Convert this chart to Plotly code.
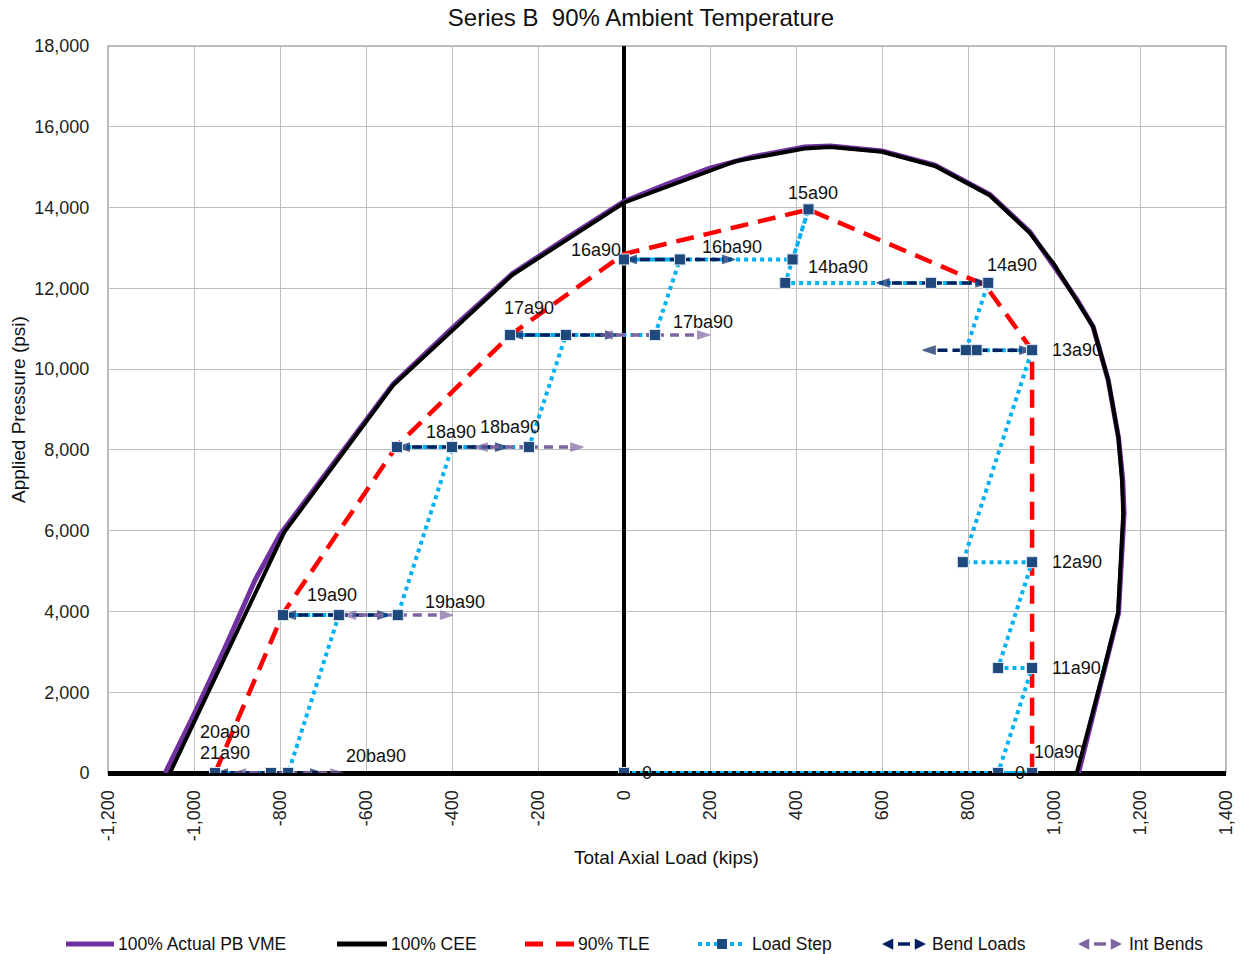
import plotly.graph_objects as go

# ---------------- data ----------------
# 100% Actual PB VME envelope
vme_x = [-1067, -1000, -930, -858, -800, -700, -600, -537, -400, -260, -130, 0, 100, 200, 300,
         420, 480, 600, 723, 851, 944, 1053, 1091, 1126, 1150, 1160, 1163, 1157, 1150, 1115, 1057]
vme_p = [0, 1450, 3050, 4777, 5900, 7330, 8740, 9630, 11010, 12360, 13270, 14150, 14580, 14975, 15260,
         15500, 15525, 15400, 15050, 14320, 13400, 11730, 11050, 9730, 8300, 7250, 6430, 5200, 3960, 2475, 0]

# 100% CEE envelope
cee_x = [-1056, -790, -537, -260, 0, 200, 260, 420, 480, 600, 723, 851, 944, 1000, 1053, 1091,
         1126, 1150, 1158, 1161, 1155, 1149, 1114, 1053]
cee_p = [0, 5965, 9600, 12330, 14120, 14925, 15150, 15460, 15500, 15380, 15030, 14300, 13370, 12600,
         11710, 11050, 9730, 8300, 7250, 6430, 5200, 3960, 2475, 0]

# 90% TLE
tle_x = [-951, -793, -528, -265, 0, 429, 840, 949, 949]
tle_p = [0, 3950, 8100, 10840, 12850, 13950, 12080, 10470, 0]

# Load step path
step_x = [0, 870, 949, 870, 949, 870, 949, 788, 949, 820, 795, 847, 714, 375, 429, 392, 0, 130,
          72, -265, -135, -221, -528, -400, -526, -793, -663, -781, -821, -951]
step_p = [0, 0, 0, 0, 2600, 2600, 5220, 5220, 10470, 10470, 10470, 12135, 12135, 12135, 13955,
          12715, 12715, 12715, 10845, 10845, 10845, 8070, 8070, 8070, 3910, 3910, 3910, 0, 0, 0]

# Bend loads (centre, left tip, right tip, pressure)
bend_c = [822, 716, 130, -137, -400, -665, -823]
bend_l = [695, 588, 0, -265, -528, -793, -951]
bend_r = [949, 847, 258, -14, -270, -544, -700]
bend_p = [10470, 12135, 12715, 10845, 8070, 3910, 0]

# Int bends (centre, left tip, right tip, pressure)
int_c = [72, -221, -526, -781]
int_l = [-56, -347, -653, -909]
int_r = [200, -95, -398, -653]
int_p = [10845, 8070, 3910, 0]

# Point labels
lab_text = ["15a90", "16a90", "16ba90", "14ba90", "14a90", "13a90", "17a90", "17ba90", "18a90",
            "18ba90", "12a90", "11a90", "19a90", "19ba90", "20a90", "21a90", "20ba90", "10a90", "0", "0"]
lab_x = [440, -66, 252, 497, 902, 1053, -220, 183, -403, -265, 1053, 1053, -678, -394, -928, -928,
         -577, 1012, 53, 921]
lab_p = [14352, 12949, 13015, 12535, 12577, 10473, 11505, 11174, 8451, 8575, 5232, 2608, 4407, 4241,
         1023, 487, 421, 528, 0, 0]

x_ticks = [-1200, -1000, -800, -600, -400, -200, 0, 200, 400, 600, 800, 1000, 1200, 1400]
x_ticktext = ["-1,200", "-1,000", "-800", "-600", "-400", "-200", "0", "200", "400", "600", "800",
              "1,000", "1,200", "1,400"]
y_ticks = [0, 2000, 4000, 6000, 8000, 10000, 12000, 14000, 16000, 18000]
y_ticktext = ["0", "2,000", "4,000", "6,000", "8,000", "10,000", "12,000", "14,000", "16,000", "18,000"]

legend_names = ["100% Actual PB VME", "100% CEE", "90% TLE", "Load Step", "Bend Loads", "Int Bends"]

# ---------------- styling ----------------
FONT = "Liberation Sans, Arial, sans-serif"
W, H = 1246, 954
ML, MR, MT, MB = 108, 20, 46, 181
PW, PH = W - ML - MR, H - MT - MB
C_VME = "#7030A0"
C_CEE = "#000000"
C_TLE = "#FF0000"
C_STEP = "#00B0F0"
C_MARK = "#1F497D"
C_BEND = "#002060"
C_INT = "#8064A2"


def px(x):
    return (x - ML) / PW


def py(y):
    return (H - MB - y) / PH


def arrow_segments(c, l, r, p):
    xs, ys, sym, sz, lw = [], [], [], [], []
    for ci, li, ri, pi in zip(c, l, r, p):
        xs += [ci, li, None, ci, ri, None]
        ys += [pi, pi, None, pi, pi, None]
        sym += ["circle", "arrow", "circle", "circle", "arrow", "circle"]
        sz += [0, 13, 0, 0, 13, 0]
        lw += [0, 1.2, 0, 0, 1.2, 0]
    return xs, ys, sym, sz, lw


fig = go.Figure()

fig.add_trace(go.Scatter(x=vme_x, y=vme_p, mode="lines", name=legend_names[0],
                         line=dict(color=C_VME, width=5), showlegend=False))
fig.add_trace(go.Scatter(x=cee_x, y=cee_p, mode="lines", name=legend_names[1],
                         line=dict(color=C_CEE, width=4), showlegend=False))
fig.add_trace(go.Scatter(x=tle_x, y=tle_p, mode="lines", name=legend_names[2],
                         line=dict(color=C_TLE, width=4.5, dash="18px,10px"), showlegend=False))
fig.add_trace(go.Scatter(x=step_x, y=step_p, mode="lines", name=legend_names[3],
                         line=dict(color=C_STEP, width=4, dash="4px,4px"), showlegend=False))

bx, by, bs, bz, bw = arrow_segments(bend_c, bend_l, bend_r, bend_p)
fig.add_trace(go.Scatter(x=bx, y=by, mode="lines+markers", name=legend_names[4],
                         line=dict(color=C_BEND, width=3.5, dash="10px,5px"),
                         marker=dict(symbol=bs, size=bz, color=C_BEND, angleref="previous",
                                     line=dict(width=bw, color=C_BEND)),
                         showlegend=False, connectgaps=False))
ix, iy, isy, isz, iw = arrow_segments(int_c, int_l, int_r, int_p)
fig.add_trace(go.Scatter(x=ix, y=iy, mode="lines+markers", name=legend_names[5],
                         line=dict(color=C_INT, width=3.5, dash="9px,6px"),
                         marker=dict(symbol=isy, size=isz, color=C_INT, angleref="previous",
                                     line=dict(width=iw, color=C_INT)),
                         showlegend=False, connectgaps=False))
fig.add_trace(go.Scatter(x=step_x, y=step_p, mode="markers", name=legend_names[3],
                         marker=dict(symbol="square", size=11, color=C_MARK,
                                     line=dict(color="#DCE6F2", width=1)),
                         showlegend=False))

annotations = []
for t, x, p in zip(lab_text, lab_x, lab_p):
    annotations.append(dict(x=x, y=p, xref="x", yref="y", text=t, showarrow=False,
                            xanchor="center", yanchor="middle",
                            font=dict(family=FONT, size=18, color="#111111")))

# axis titles
annotations.append(dict(x=px(18), y=py(410), xref="paper", yref="paper", text="Applied Pressure (psi)",
                        textangle=-90, showarrow=False, xanchor="center", yanchor="middle",
                        font=dict(family=FONT, size=19, color="#111111")))
annotations.append(dict(x=px(666), y=py(858), xref="paper", yref="paper", text="Total Axial Load (kips)",
                        showarrow=False, xanchor="center", yanchor="middle",
                        font=dict(family=FONT, size=19, color="#111111")))

# ---------------- custom legend ----------------
LY = 944
shapes = []
# frame of plot area
shapes.append(dict(type="rect", xref="paper", yref="paper", x0=0, y0=0, x1=1, y1=1,
                   line=dict(color="#A6A6A6", width=1.5), layer="below"))


def lline(x0, x1, color, width, dash="solid"):
    shapes.append(dict(type="line", xref="paper", yref="paper", x0=px(x0), x1=px(x1), y0=py(LY), y1=py(LY),
                       line=dict(color=color, width=width, dash=dash)))


def ltext(x, t):
    annotations.append(dict(x=px(x), y=py(LY), xref="paper", yref="paper", text=t, showarrow=False,
                            xanchor="left", yanchor="middle", font=dict(family=FONT, size=17.5, color="#111111")))


def larrow(xhead, dx, color):
    annotations.append(dict(x=px(xhead), y=py(LY), xref="paper", yref="paper", text="", showarrow=True,
                            ax=dx, ay=0, arrowhead=2, arrowsize=0.9, arrowwidth=2.5, arrowcolor=color))


lline(66, 114, C_VME, 5)
ltext(116, legend_names[0])
lline(337, 387, C_CEE, 5)
ltext(389, legend_names[1])
lline(525, 543, C_TLE, 5)
lline(556, 574, C_TLE, 5)
ltext(576, legend_names[2])
lline(698, 744, C_STEP, 4, "dot")
shapes.append(dict(type="rect", xref="paper", yref="paper", x0=px(717), x1=px(727), y0=py(LY + 5), y1=py(LY - 5),
                   fillcolor=C_MARK, line=dict(width=0)))
ltext(750, legend_names[3])
larrow(882, 11, C_BEND)
lline(898, 910, C_BEND, 3.5)
larrow(926, -11, C_BEND)
ltext(930, legend_names[4])
larrow(1078, 11, C_INT)
lline(1094, 1106, C_INT, 3.5)
larrow(1122, -11, C_INT)
ltext(1127, legend_names[5])

axis_font = dict(family=FONT, size=18, color="#222222")
fig.update_layout(
    width=W, height=H,
    margin=dict(l=ML, r=MR, t=MT, b=MB, autoexpand=False),
    paper_bgcolor="white", plot_bgcolor="white",
    title=dict(text="Series B\u00a0\u00a090% Ambient Temperature", x=641 / W, xref="container", xanchor="center",
               y=1 - 18 / H, yref="container", yanchor="middle",
               font=dict(family=FONT, size=24, color="#111111")),
    showlegend=False,
    xaxis=dict(range=[-1200, 1400], tickmode="array", tickvals=x_ticks, ticktext=x_ticktext,
               tickangle=-90, tickfont=axis_font, ticks="outside", ticklen=9, tickcolor="rgba(0,0,0,0)",
               showgrid=True, gridcolor="#BEBEBE", gridwidth=1,
               zeroline=True, zerolinecolor="#000000", zerolinewidth=4, showline=False),
    yaxis=dict(range=[0, 18000], tickmode="array", tickvals=y_ticks, ticktext=y_ticktext,
               tickfont=axis_font, ticks="outside", ticklen=14, tickcolor="rgba(0,0,0,0)",
               showgrid=True, gridcolor="#BEBEBE", gridwidth=1,
               zeroline=True, zerolinecolor="#000000", zerolinewidth=4.5, showline=False),
    annotations=annotations,
    shapes=shapes,
)

fig.write_html("out.html")
